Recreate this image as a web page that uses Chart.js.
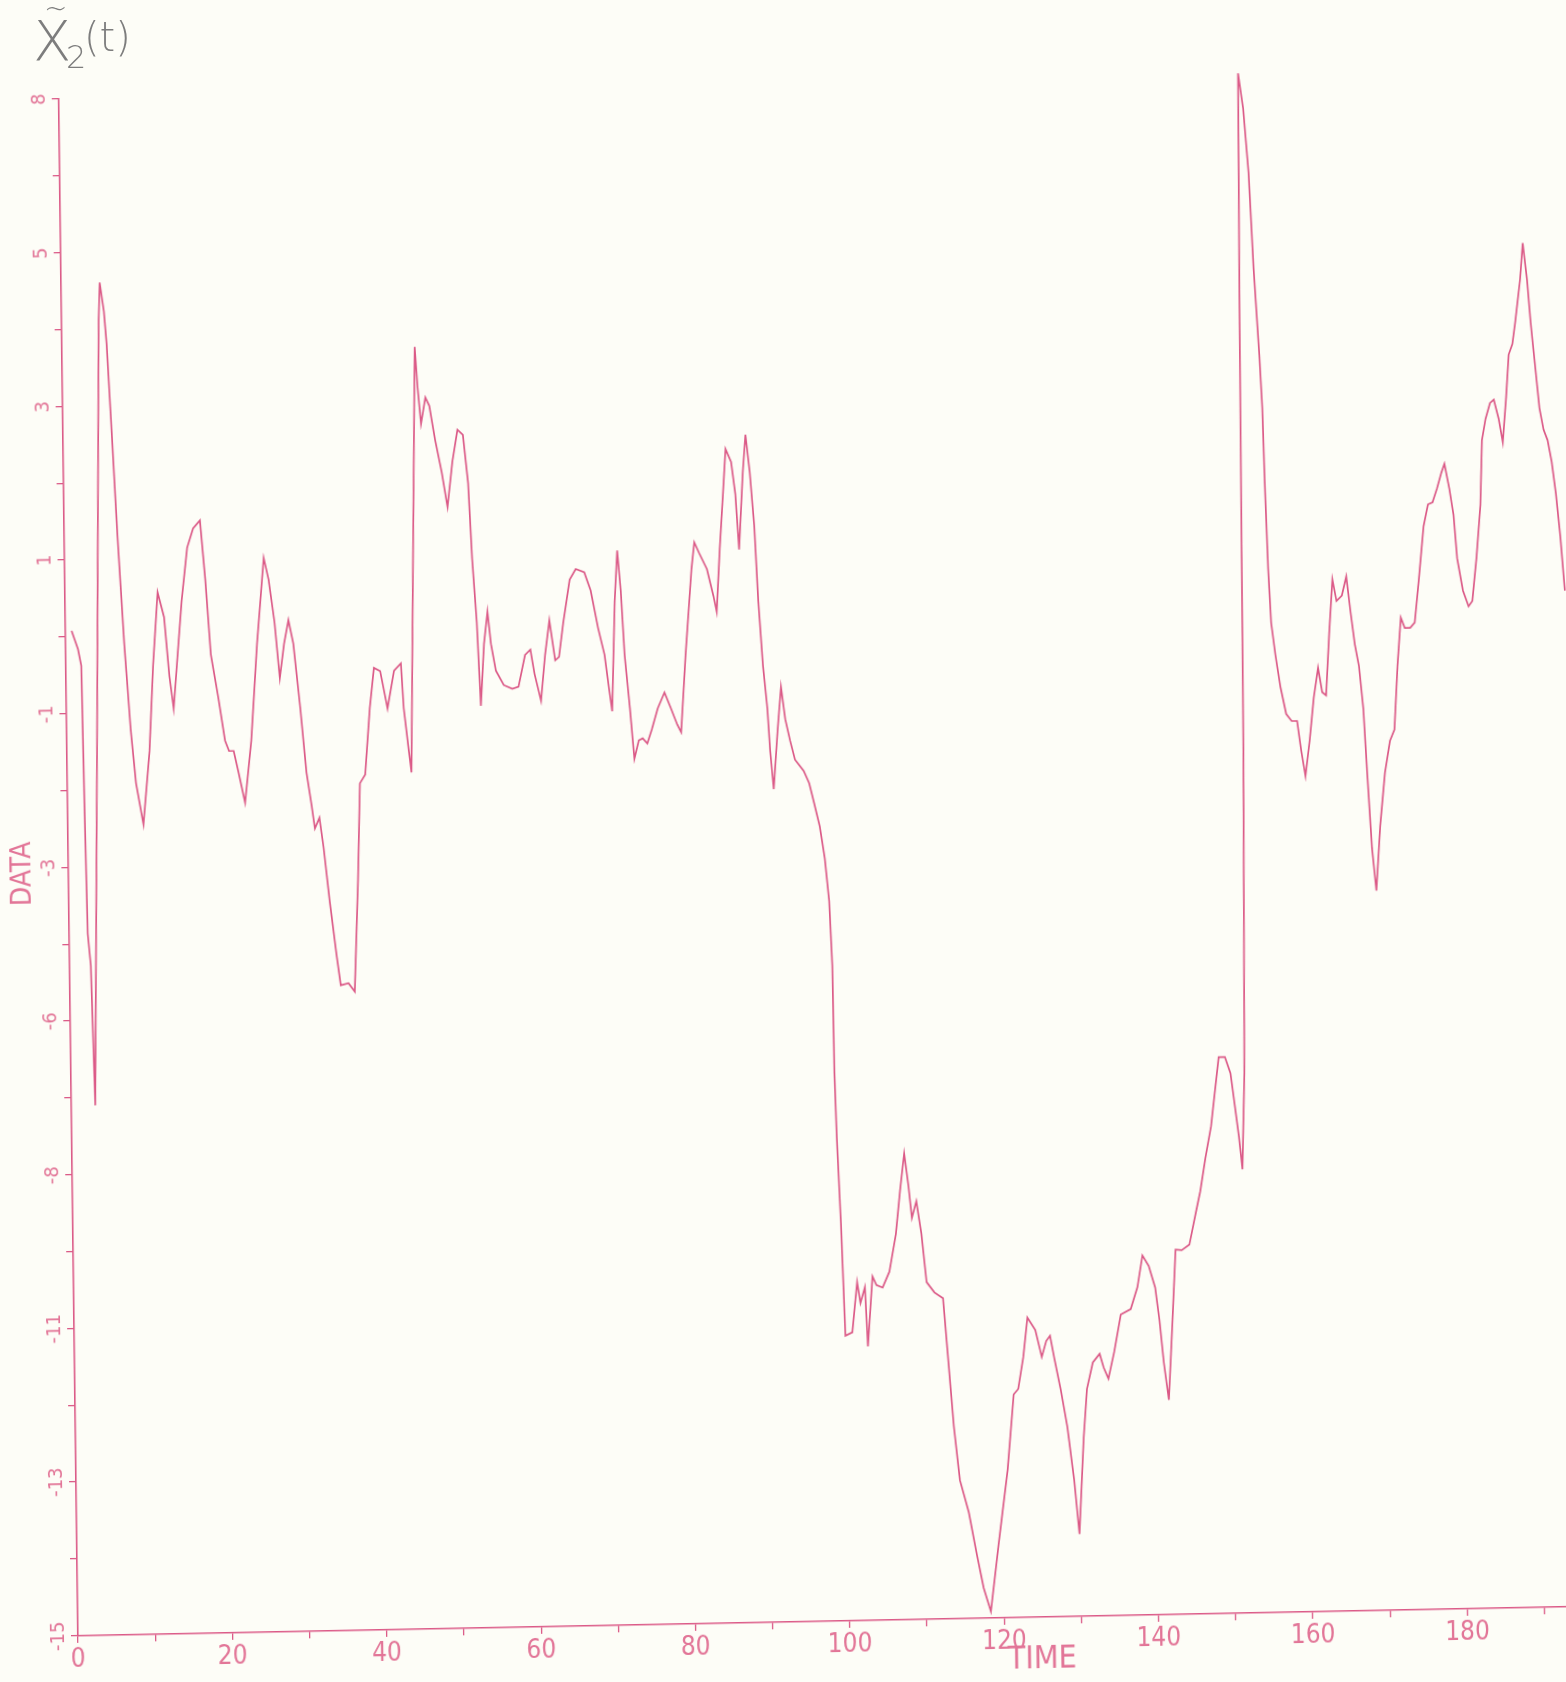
<!DOCTYPE html>
<html>
<head>
<meta charset="utf-8">
<script src="https://cdn.jsdelivr.net/npm/chart.js@4.4.1/dist/chart.umd.min.js"></script>
<style>
   html, body { margin: 0; padding: 0; background: #fdfdf7; overflow: hidden; width: 1566px; height: 1682px; }
   #wrap { position: absolute; left: 0; top: 0; width: 1600px; height: 1720px;
      transform-origin: 78px 1636px; transform: matrix(1, -0.0195, 0.0125, 1, 0, 0); }
   .hand { position: absolute; color: #7d7d7d; font-family: 'DejaVu Sans', sans-serif; font-weight: 200; }
</style>
</head>
<body>
<div id="wrap"><canvas id="chartPlot" width="1600" height="1720"></canvas></div>
<span class="hand" style="left:33px; top:8px; font-size:56px;">X</span>
<span class="hand" style="left:44px; top:-8px; font-size:28px;">~</span>
<span class="hand" style="left:66px; top:38px; font-size:32px;">2</span>
<span class="hand" style="left:84px; top:14px; font-size:40px;">(t)</span>
<script>
// values
const times = [0.8, 1.6, 2.0, 2.2, 2.4, 2.75, 3.1, 3.9, 4.8, 5.0, 5.5, 5.8, 6.3, 6.9, 7.6, 8.3, 8.9, 9.8, 10.7, 11.3,
   12.0, 12.8, 13.4, 13.9, 14.5, 15.1, 15.9, 16.7, 17.6, 18.2, 18.8, 19.7, 20.5, 21.0, 21.6, 22.2, 23.0, 23.9, 24.8, 25.8,
   26.4, 27.1, 27.7, 28.3, 28.9, 29.5, 30.3, 31.0, 31.6, 32.0, 32.6, 33.1, 33.8, 34.6, 35.1, 36.1, 36.9, 37.5, 37.9, 38.6,
   39.3, 39.9, 40.7, 41.6, 42.5, 43.4, 43.7, 44.3, 44.6, 45.2, 45.7, 46.0, 46.4, 47.0, 47.5, 48.2, 49.0, 49.7, 50.4, 51.1,
   51.8, 52.4, 52.8, 53.3, 53.7, 54.2, 54.7, 55.1, 55.7, 56.7, 57.8, 58.6, 59.5, 60.2, 60.7, 61.5, 62.1, 62.7, 63.4, 63.9,
   64.5, 65.4, 66.2, 67.3, 68.1, 69.0, 69.8, 70.3, 70.7, 71.2, 71.6, 72.0, 72.4, 73.0, 73.5, 74.1, 74.6, 75.2, 75.8, 76.6,
   77.5, 78.3, 79.1, 79.6, 80.3, 81.2, 81.6, 82.2, 83.2, 84.0, 84.4, 84.9, 85.4, 85.8, 86.5, 87.0, 87.4, 88.0, 88.4, 88.9,
   89.4, 89.8, 90.3, 90.8, 91.1, 91.5, 92.1, 92.6, 93.1, 93.7, 94.3, 95.4, 96.1, 96.7, 97.4, 98.0, 98.5, 98.8, 98.9, 99.1,
   99.5, 99.9, 100.8, 101.5, 101.9, 102.5, 102.8, 103.5, 104.0, 104.8, 105.7, 106.6, 107.2, 107.8, 108.3, 108.7, 109.3, 109.9, 110.5, 111.5,
   112.6, 113.1, 113.8, 114.5, 115.6, 116.6, 117.4, 118.3, 119.4, 120.7, 121.6, 122.2, 122.9, 123.5, 124.5, 125.3, 125.9, 126.4, 126.9, 127.7,
   128.5, 129.3, 129.9, 130.6, 131.1, 131.9, 132.8, 133.3, 133.9, 134.7, 135.6, 136.9, 137.8, 138.5, 139.3, 140.1, 140.6, 141.1, 141.7, 142.3,
   142.8, 143.6, 144.6, 145.5, 146.1, 146.8, 147.6, 148.1, 148.7, 149.5, 150.2, 150.7, 151.2, 151.6, 152.0, 152.4, 152.6, 152.8, 153.4, 154.0,
   154.5, 155.1, 155.4, 155.6, 155.9, 156.2, 156.7, 157.3, 158.0, 158.7, 159.4, 159.9, 160.4, 161.0, 161.6, 162.2, 162.7, 163.2, 163.7, 164.2,
   164.7, 165.4, 166.0, 166.5, 167.0, 167.5, 168.0, 168.4, 168.9, 169.4, 170.0, 170.7, 171.4, 172.0, 172.5, 173.0, 173.5, 174.2, 174.8, 175.4,
   176.1, 176.7, 177.3, 177.9, 178.5, 178.9, 179.5, 180.0, 180.4, 181.1, 181.8, 182.3, 182.9, 183.5, 183.8, 184.3, 184.9, 185.4, 186.0, 186.5,
   187.0, 187.4, 187.9, 188.3, 189.0, 189.4, 189.9, 190.3, 190.8, 191.3, 191.8, 192.3, 192.8, 193.3, 193.8, 194.3];
const values = [0.09, -0.19, -0.44, -2.72, -4.51, -5.0, -7.12, -1.75, 4.77, 5.37, 4.93, 4.44, 3.14, 1.51, -0.12, -1.43, -2.24, -2.87, -1.76, -0.46,
   0.65, 0.27, -0.63, -1.12, -0.30, 0.51, 1.32, 1.61, 1.73, 0.83, -0.31, -0.97, -1.62, -1.78, -1.78, -2.11, -2.57, -1.63, -0.16, 1.14,
   0.81, 0.16, -0.69, -0.17, 0.19, -0.17, -1.15, -2.13, -2.62, -2.98, -2.82, -3.28, -4.09, -4.91, -5.37, -5.34, -5.47, -3.78, -2.31, -2.18,
   -1.17, -0.56, -0.61, -1.18, -0.61, -0.50, -1.18, -1.84, -2.16, 1.42, 4.30, 3.70, 3.13, 3.53, 3.40, 2.88, 2.39, 1.86, 2.55, 3.03,
   2.95, 2.22, 1.07, 0.10, -1.17, -0.23, 0.26, -0.23, -0.64, -0.86, -0.92, -0.89, -0.41, -0.33, -0.70, -1.11, -0.41, 0.11, -0.50, -0.45,
   0.07, 0.72, 0.88, 0.83, 0.55, -0.02, -0.43, -0.92, -1.29, 0.38, 1.15, 0.54, -0.44, -1.25, -2.02, -1.74, -1.71, -1.79, -1.58, -1.26,
   -1.02, -1.26, -1.51, -1.63, -0.45, 0.85, 1.25, 1.09, 0.84, 0.43, 0.19, 1.16, 1.98, 2.66, 2.46, 1.97, 1.13, 2.30, 2.87, 2.30,
   1.48, 0.34, -0.64, -1.29, -1.94, -2.52, -1.62, -0.97, -1.46, -1.79, -2.08, -2.25, -2.44, -2.74, -3.10, -3.59, -4.24, -5.22, -6.85, -7.82,
   -9.13, -10.84, -10.79, -10.03, -10.35, -10.11, -11.01, -9.95, -10.08, -10.12, -9.88, -9.31, -8.66, -8.09, -8.58, -9.07, -8.82, -9.31, -10.05, -10.21,
   -10.30, -11.11, -12.25, -13.07, -13.56, -14.22, -14.71, -15.07, -14.06, -12.92, -11.78, -11.70, -11.22, -10.62, -10.81, -11.22, -10.98, -10.90, -11.23, -11.72,
   -12.29, -13.10, -13.92, -12.46, -11.72, -11.32, -11.19, -11.40, -11.57, -11.16, -10.60, -10.52, -10.19, -9.71, -9.87, -10.20, -10.69, -11.34, -11.91, -10.69,
   -9.63, -9.64, -9.56, -9.07, -8.75, -8.26, -7.77, -7.29, -6.72, -6.72, -6.97, -7.45, -7.94, -8.43, -6.97, -2.08, 4.43, 8.21, 7.68, 6.70,
   5.24, 3.93, 3.12, 1.98, 0.68, -0.14, -0.63, -1.12, -1.53, -1.64, -1.64, -2.10, -2.48, -1.94, -1.29, -0.84, -1.21, -1.26, -0.32, 0.50,
   0.17, 0.25, 0.54, 0.0, -0.49, -0.82, -1.47, -2.45, -3.59, -4.24, -3.26, -2.45, -1.97, -1.80, -0.83, -0.10, -0.26, -0.26, -0.18, 0.47,
   1.28, 1.61, 1.64, 1.85, 2.09, 2.22, 1.84, 1.44, 0.78, 0.29, 0.05, 0.13, 0.78, 1.59, 2.57, 2.89, 3.13, 3.18, 2.89, 2.53,
   3.21, 3.86, 4.02, 4.35, 5.0, 5.55, 4.99, 4.34, 3.69, 3.04, 2.71, 2.55, 2.22, 1.73, 1.08, 0.26];

// axis ticks as printed (labels are the plotter's rounded values)
const xTickValues = [0, 10, 20, 30, 40, 50, 60, 70, 80, 90, 100, 110, 120, 130, 140, 150, 160, 170, 180, 190];
const xTickLabels = ['0', '', '20', '', '40', '', '60', '', '80', '', '100', '', '120', '', '140', '', '160', '', '180', ''];
const yTickValues = [-15.17, -14.0, -12.83, -11.67, -10.5, -9.33, -8.17, -7.0, -5.83, -4.67, -3.5, -2.33, -1.17, 0.0,
   1.17, 2.33, 3.5, 4.67, 5.83, 7.0, 8.17];
const yTickLabels = ['-15', '', '-13', '', '-11', '', '-8', '', '-6', '', '-3', '', '-1', '', '1', '', '3', '', '5', '', '8'];

const pink = '#db5a87';
const pinkText = '#e27597';
const condensed = "'DejaVu Sans Condensed', 'DejaVu Sans', sans-serif";

const plotterText = {
   id: 'plotterText',
   afterDraw(chart) {
      const ctx = chart.ctx;
      const yScale = chart.scales.y;
      ctx.save();
      ctx.fillStyle = pinkText;
      ctx.textAlign = 'center';
      ctx.textBaseline = 'middle';
      // rotated y labels
      ctx.font = '20px ' + condensed;
      yTickValues.forEach((v, i) => {
         if (!yTickLabels[i]) return;
         const py = yScale.getPixelForValue(v);
         ctx.save();
         ctx.translate(59, py);
         ctx.rotate(-Math.PI / 2);
         ctx.fillText(yTickLabels[i], 0, 0);
         ctx.restore();
      });
      // axis titles
      ctx.font = '28px ' + condensed;
      ctx.save();
      ctx.translate(33, 873);
      ctx.rotate(-Math.PI / 2);
      ctx.fillText('DATA', 0, 0);
      ctx.restore();
      ctx.font = '32px ' + condensed;
      ctx.fillText('TIME', 1042, 1679);
      ctx.restore();
   }
};

const ctx = document.getElementById('chartPlot').getContext('2d');
const chartPlot = new Chart(ctx, {
   type: 'scatter',
   data: {
      datasets: [{
         data: times.map((t, i) => ({ x: t, y: values[i] })),
         showLine: true,
         borderColor: pink,
         borderWidth: 1.7,
         pointRadius: 0,
         tension: 0,
         clip: false,
      }]
   },
   options: {
      responsive: false,
      devicePixelRatio: 1,
      animation: false,
      layout: { padding: { top: 99, right: 9, left: 0, bottom: 0 } },
      scales: {
         x: {
            type: 'linear',
            min: 0,
            max: 196,
            afterBuildTicks: (scale) => { scale.ticks = xTickValues.map(v => ({ value: v })); },
            afterFit: (scale) => { scale.height = 84; },
            border: { color: pink, width: 1.6 },
            grid: { drawOnChartArea: false, drawTicks: true, tickLength: 7, color: pink, lineWidth: 1.3 },
            ticks: {
               color: pinkText,
               padding: 2,
               maxRotation: 0,
               autoSkip: false,
               font: { family: condensed, size: 26 },
               callback: (value, index) => xTickLabels[index],
            },
         },
         y: {
            type: 'linear',
            min: -15.17,
            max: 8.17,
            afterBuildTicks: (scale) => { scale.ticks = yTickValues.map(v => ({ value: v })); },
            afterFit: (scale) => { scale.width = 78; },
            border: { color: pink, width: 1.6 },
            grid: { drawOnChartArea: false, drawTicks: true, tickLength: 7, color: pink, lineWidth: 1.3 },
            ticks: { display: false },
         }
      },
      plugins: {
         legend: { display: false },
         tooltip: { enabled: false },
      },
   },
   plugins: [plotterText]
});
</script>
</body>
</html>
